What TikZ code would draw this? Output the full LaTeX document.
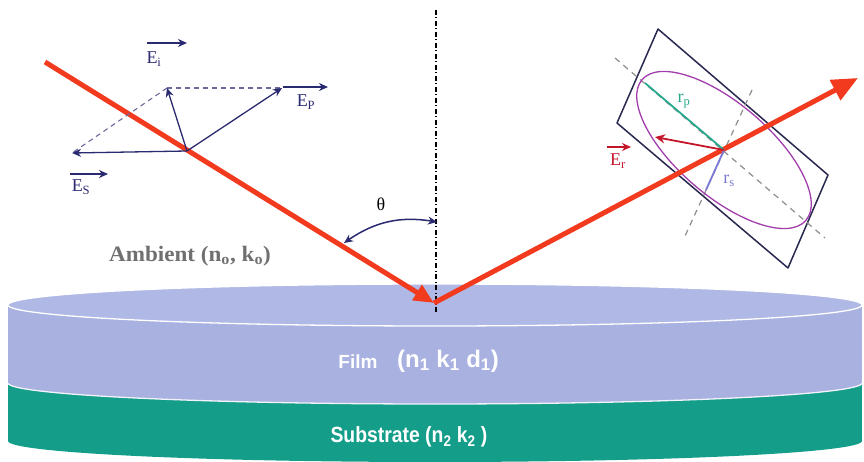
\documentclass[tikz,border=0pt]{standalone}
\usepackage{fontspec}
\setmainfont{Liberation Serif}
\setsansfont{Liberation Sans}
\usetikzlibrary{arrows.meta}

\definecolor{rayred}{RGB}{242,58,30}
\definecolor{navy}{RGB}{42,42,112}
\definecolor{filmtop}{RGB}{176,184,229}
\definecolor{filmside}{RGB}{168,177,224}
\definecolor{subst}{RGB}{20,158,138}
\definecolor{ellcol}{RGB}{162,62,172}
\definecolor{rpcol}{RGB}{40,168,140}
\definecolor{rscol}{RGB}{122,122,212}
\definecolor{ercol}{RGB}{196,22,42}
\definecolor{framecol}{RGB}{40,40,80}
\definecolor{axisgray}{RGB}{140,140,140}
\definecolor{ambgray}{RGB}{112,112,112}

\begin{document}
\begin{tikzpicture}[x=1pt,y=-1pt,
  ray/.style={draw=rayred,line width=5pt},
  vec/.style={draw=navy,line width=1.3pt,-{Stealth[length=9pt,width=8pt]}},
  hint/.style={draw=navy!70,line width=1.1pt,dash pattern=on 5pt off 4pt},
  axis/.style={draw=axisgray,line width=1.2pt,dash pattern=on 6pt off 5pt},
  lbl/.style={inner sep=0pt,font=\fontsize{18}{20}\selectfont},
  overarrow/.style={line width=1.6pt,-{Stealth[length=9pt,width=8pt]}},
  layertext/.style={inner sep=0pt,text=white,font=\sffamily\bfseries}
]
\useasboundingbox (0,0) rectangle (864,462);

% ---- sample: substrate, film, top face ----
\fill[subst] (8,383) rectangle (862,441);
\fill[subst] (435,441) ellipse[x radius=427,y radius=21];
\fill[filmside] (8,305) rectangle (862,383);
\fill[filmside] (435,383) ellipse[x radius=427,y radius=21];
\begin{scope}
  \clip (0,383) rectangle (864,462);
  \draw[white!85!filmside,line width=1.3pt] (435,383) ellipse[x radius=427,y radius=21];
\end{scope}
\filldraw[fill=filmtop,draw=white,line width=1.3pt] (435,305) ellipse[x radius=427,y radius=21];

% ---- surface normal ----
\coordinate (ntop) at (436,10);
\coordinate (nbot) at (436,312);
\draw[black,line width=1.1pt,dash pattern=on 5pt off 2.5pt on 1pt off 2.5pt] (ntop) -- (nbot);

% ---- polarisation ellipse frame and axes ----
\coordinate (c) at (724,150);
\coordinate (r1) at (658,29);
\coordinate (r2) at (828,175);
\coordinate (r3) at (788,268);
\coordinate (r4) at (617,123);
\draw[framecol,line width=1.5pt,line join=round] (r1) -- (r2) -- (r3) -- (r4) -- cycle;
\coordinate (ma1) at (615,58);
\coordinate (ma2) at (825,238);
\coordinate (mi1) at (752,90);
\coordinate (mi2) at (685,236);
\draw[axis] (ma1) -- (ma2);
\draw[axis] (mi1) -- (mi2);
\draw[ellcol,line width=1.3pt,rotate around={-40.65:(c)}] (c) ellipse[x radius=108,y radius=46];

% ---- incident and reflected beams ----
\coordinate (src) at (45,62);
\coordinate (hit) at (434,303);
\coordinate (out) at (858,78);
\draw[ray,-{Triangle[length=20pt,width=17pt]}] (src) -- (hit);
\draw[ray,-{Triangle[length=26pt,width=22pt]}] (hit) -- (out);

% ---- angle of incidence ----
\coordinate (a1) at (344,243);
\coordinate (a2) at (437,222);
\draw[navy,line width=1.5pt,{Stealth[length=9pt,width=8pt]}-{Stealth[length=9pt,width=8pt]}] (a1) to[bend left=22] (a2);
\node[lbl] (theta) at (381,204) {θ};

% ---- incident field components ----
\coordinate (o) at (187,151);
\coordinate (es) at (72,153);
\coordinate (ei) at (167,88);
\coordinate (ep) at (282,88);
\draw[hint] (ei) -- (ep);
\draw[hint] (ei) -- (es);
\draw[vec] (o) -- (es);
\draw[vec] (o) -- (ei);
\draw[vec] (o) -- (ep);

\node[lbl,text=navy] (Ei) at (154,59) {E\textsubscript{i}};
\node[lbl,text=navy] (Ep) at (306,102) {E\textsubscript{P}};
\node[lbl,text=navy] (Es) at (81,187) {E\textsubscript{S}};
\coordinate (eia) at (147,43);
\coordinate (epa) at (283,87);
\coordinate (esa) at (70,174);
\draw[navy,overarrow] (eia) -- ++(40,0);
\draw[navy,overarrow] (epa) -- ++(45,0);
\draw[navy,overarrow] (esa) -- ++(38,0);

% ---- reflected field ----
\coordinate (rp) at (645,83);
\coordinate (rs) at (706,190);
\coordinate (er) at (655,137);
\draw[rpcol,line width=1.8pt] (c) -- (rp);
\draw[rscol,line width=1.8pt] (c) -- (rs);
\draw[ercol,line width=1.8pt,-{Stealth[length=10pt,width=9pt]}] (c) -- (er);

\node[lbl,text=ercol] (Er) at (618,161) {E\textsubscript{r}};
\coordinate (era) at (607,147);
\draw[ercol,overarrow] (era) -- ++(24,0);
\node[lbl,text=rpcol] (rpl) at (684,101) {r\textsubscript{p}};
\node[lbl,text=rscol] (rsl) at (729,181) {r\textsubscript{s}};

% ---- media labels ----
\node[inner sep=0pt,text=ambgray,font=\fontsize{22}{24}\selectfont\bfseries] (amb) at (190,256)
  {\scalebox{1.05}[1]{Ambient (n\textsubscript{o}, k\textsubscript{o})}};
\node[layertext,font=\sffamily\bfseries\fontsize{19}{21}\selectfont] (film) at (358,362)
  {Film};
\node[layertext,font=\sffamily\bfseries\fontsize{24}{26}\selectfont] (filmp) at (448,361)
  {(n\textsubscript{1} k\textsubscript{1} d\textsubscript{1})};
\node[layertext,font=\sffamily\bfseries\fontsize{22}{24}\selectfont] (sub) at (409,437)
  {\scalebox{0.88}[1]{Substrate (n\textsubscript{2} k\textsubscript{2} )}};
\end{tikzpicture}
\end{document}
